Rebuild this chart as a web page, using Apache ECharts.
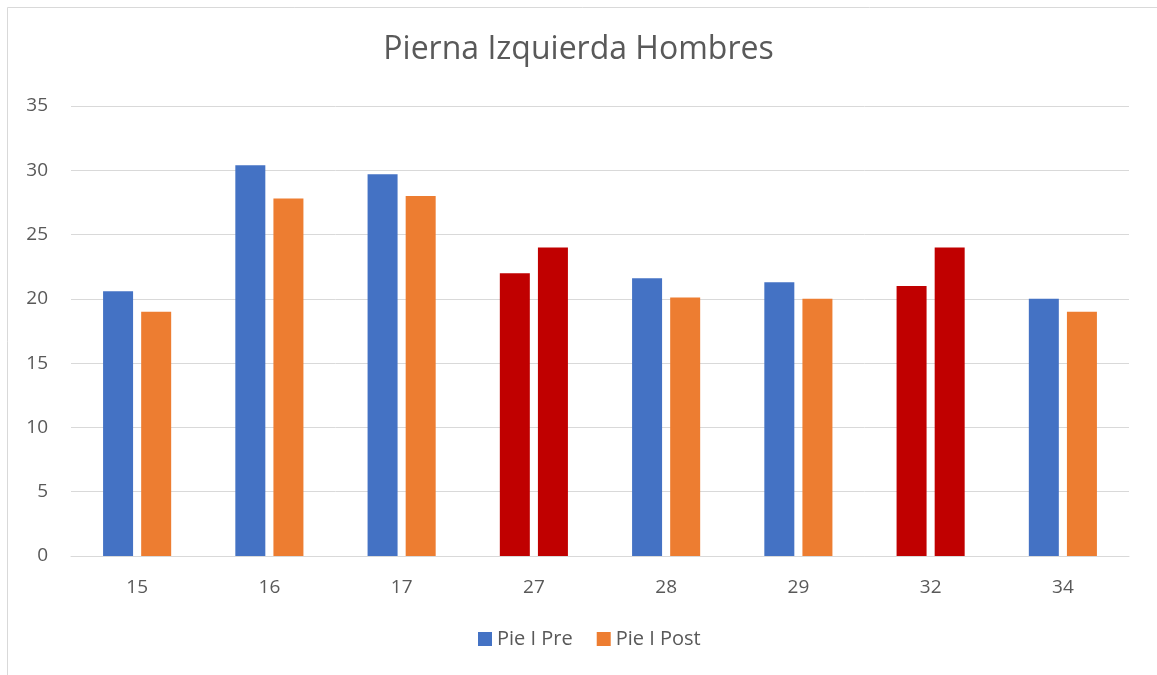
<!DOCTYPE html>
<html>
<head>
<meta charset="utf-8">
<script src="https://cdn.jsdelivr.net/npm/echarts@6/dist/echarts.min.js"></script>
<style>
  html, body { margin: 0; padding: 0; background: #fff; }
  #chart { width: 1157px; height: 675px; }
</style>
</head>
<body>
<div id="chart"></div>
<script>
const categories = ['15', '16', '17', '27', '28', '29', '32', '34'];
const preValues = [20.6, 30.4, 29.7, 22.0, 21.6, 21.3, 21.0, 20.0];
const postValues = [19.0, 27.8, 28.0, 24.0, 20.1, 20.0, 24.0, 19.0];
// categories drawn in red instead of the series colour
const redCategories = ['27', '32'];
const yTicks = [0, 5, 10, 15, 20, 25, 30, 35];

const BLUE = '#4472C4';
const ORANGE = '#ED7D31';
const RED = '#C00000';

function withColours(values) {
  return values.map((v, i) =>
    redCategories.includes(categories[i]) ? { value: v, itemStyle: { color: RED } } : v
  );
}

const myChart = echarts.init(document.getElementById('chart'));
const option = {
  backgroundColor: '#fff',
  textStyle: { fontFamily: '"Open Sans", "Noto Sans", sans-serif' },
  title: {
    text: 'Pierna Izquierda Hombres',
    left: 'center',
    top: 29,
    textStyle: { fontSize: 32, fontWeight: 'normal', color: '#595959', fontFamily: '"Open Sans", sans-serif' },
  },
  graphic: [
    { type: 'line', shape: { x1: 7.5, y1: 7.5, x2: 1157, y2: 7.5 }, style: { stroke: '#D9D9D9', lineWidth: 1 } },
    { type: 'line', shape: { x1: 7.5, y1: 7.5, x2: 7.5, y2: 675 }, style: { stroke: '#D9D9D9', lineWidth: 1 } },
  ],
  legend: {
    bottom: 21,
    left: 473,
    itemWidth: 14,
    itemHeight: 14,
    itemGap: 24,
    icon: 'rect',
    textStyle: { fontSize: 20, color: '#595959' },
    data: [
      { name: 'Pie I Pre', itemStyle: { color: BLUE } },
      { name: 'Pie I Post', itemStyle: { color: ORANGE } },
    ],
  },
  grid: { left: 71, right: 28, top: 106, bottom: 119 },
  xAxis: {
    type: 'category',
    data: categories,
    axisLine: { lineStyle: { color: '#D9D9D9', width: 1 } },
    axisTick: { show: false },
    axisLabel: { fontSize: 19, color: '#595959', margin: 22 },
  },
  yAxis: {
    type: 'value',
    min: yTicks[0],
    max: yTicks[yTicks.length - 1],
    interval: 5,
    axisLine: { show: false },
    axisTick: { show: false },
    splitLine: { lineStyle: { color: '#D9D9D9', width: 1 } },
    axisLabel: { fontSize: 19, color: '#595959', margin: 23 },
  },
  series: [
    {
      name: 'Pie I Pre',
      type: 'bar',
      color: BLUE,
      barWidth: 30,
      barGap: '27%',
      data: withColours(preValues),
    },
    {
      name: 'Pie I Post',
      type: 'bar',
      color: ORANGE,
      barWidth: 30,
      data: withColours(postValues),
    },
  ],
};
myChart.setOption(option);
</script>
</body>
</html>
